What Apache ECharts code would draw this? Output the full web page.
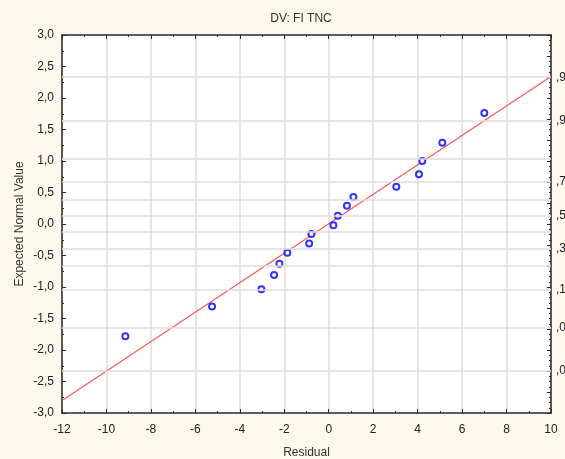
<!DOCTYPE html>
<html><head><meta charset="utf-8">
<script src="https://cdn.jsdelivr.net/npm/echarts@6/dist/echarts.min.js"></script>
<style>html,body{margin:0;padding:0;background:#fcf8ed}#c{width:565px;height:459px}</style>
</head><body><div id="c"></div>
<script>
// Data
const residuals = [-9.15, -5.25, -3.03, -2.46, -2.22, -1.86, -0.88, -0.78, 0.21, 0.41, 0.82, 1.11, 3.04, 4.06, 4.21, 5.11, 7.00];
const expectedNormal = [-1.78, -1.31, -1.035, -0.81, -0.63, -0.455, -0.31, -0.16, -0.02, 0.13, 0.29, 0.43, 0.59, 0.79, 1.00, 1.29, 1.76];
const fitLineX = [-12, 10];
const fitLineY = [-2.80, 2.34];
const probGridValues = [2.33, 1.64, 1.04, 0.67, 0.39, 0.13, -0.13, -0.39, -0.67, -1.04, -1.64, -2.33];
const probLabelValues = [2.33, 1.64, 0.67, 0.13, -0.39, -1.04, -1.64, -2.33];
const probLabels = [',9', ',9', ',7', ',5', ',3', ',1', ',0', ',0'];
const titleText = 'DV: FI TNC';
const xName = 'Residual';
const yName = 'Expected Normal Value';

const FONT = '"Liberation Sans", Arial, sans-serif';
const AX = '#2a2a2a';
const chart = echarts.init(document.getElementById('c'), null, {renderer: 'canvas'});

const tickCommon = {show: true, inside: true, length: 4, lineStyle: {color: AX, width: 1}};
const minorCommon = {show: true, splitNumber: 2, length: 2, lineStyle: {color: AX, width: 1}};
const lineCommon = {show: true, onZero: false, lineStyle: {color: AX, width: 1.5}};

chart.setOption({
  animation: false,
  backgroundColor: '#fcf8ed',
  textStyle: {fontFamily: FONT},
  title: {
    text: titleText, left: 296, top: 8, textAlign: 'center',
    textStyle: {fontSize: 12, fontWeight: 'normal', color: '#333', fontFamily: FONT}
  },
  grid: {left: 62, right: 14, top: 35, bottom: 46, show: true, backgroundColor: '#ffffff', borderWidth: 0,
    containLabel: false, outerBoundsMode: 'none'},
  xAxis: [{
    type: 'value', min: -12, max: 10, interval: 2, position: 'bottom',
    name: xName, nameLocation: 'middle', nameGap: 34, nameMoveOverlap: false,
    nameTextStyle: {fontSize: 12, color: '#333', fontFamily: FONT},
    axisLine: lineCommon, axisTick: tickCommon, minorTick: minorCommon,
    axisLabel: {fontSize: 12, color: '#222', margin: 11, fontFamily: FONT},
    splitLine: {show: true, lineStyle: {color: '#dedede', width: 1.5}}
  }, {
    type: 'value', min: -12, max: 10, interval: 2, position: 'top',
    axisLine: lineCommon, axisTick: tickCommon, minorTick: minorCommon,
    axisLabel: {show: false}, splitLine: {show: false}
  }],
  yAxis: [{
    type: 'value', min: -3, max: 3, interval: 0.5, position: 'left',
    name: yName, nameLocation: 'middle', nameGap: 36, nameRotate: 90, nameMoveOverlap: false,
    nameTextStyle: {fontSize: 12, color: '#333', fontFamily: FONT},
    axisLine: lineCommon, axisTick: tickCommon, minorTick: minorCommon,
    axisLabel: {fontSize: 12, color: '#222', margin: 8, fontFamily: FONT,
      formatter: v => v.toFixed(1).replace('.', ',')},
    splitLine: {show: false}
  }, {
    type: 'value', min: -3, max: 3, interval: 1/3, position: 'right',
    axisLine: lineCommon, axisTick: tickCommon,
    minorTick: {show: true, splitNumber: 4, length: 2, lineStyle: {color: AX, width: 1}},
    axisLabel: {show: true, fontSize: 12, color: '#222', margin: 5, fontFamily: FONT,
      customValues: probLabelValues,
      formatter: v => {
        let best = 0;
        probLabelValues.forEach((p, i) => { if (Math.abs(p - v) < Math.abs(probLabelValues[best] - v)) best = i; });
        return probLabels[best];
      }},
    splitLine: {show: false}
  }],
  series: [{
    type: 'scatter', data: [], z: 1, silent: true,
    markLine: {
      silent: true, symbol: ['none', 'none'], label: {show: false},
      lineStyle: {color: '#dedede', width: 1.5, type: 'solid'},
      data: probGridValues.map(v => ({yAxis: v}))
    }
  }, {
    type: 'line', data: fitLineX.map((x, i) => [x, fitLineY[i]]),
    symbol: 'none', lineStyle: {color: '#ff5555', width: 1.2}, z: 3, silent: true
  }, {
    type: 'scatter', data: residuals.map((x, i) => [x, expectedNormal[i]]),
    symbol: 'emptyCircle', symbolSize: 6, z: 4,
    itemStyle: {color: '#0000ff', borderColor: '#0000ff', borderWidth: 1.2}
  }]
});
</script>
</body></html>
